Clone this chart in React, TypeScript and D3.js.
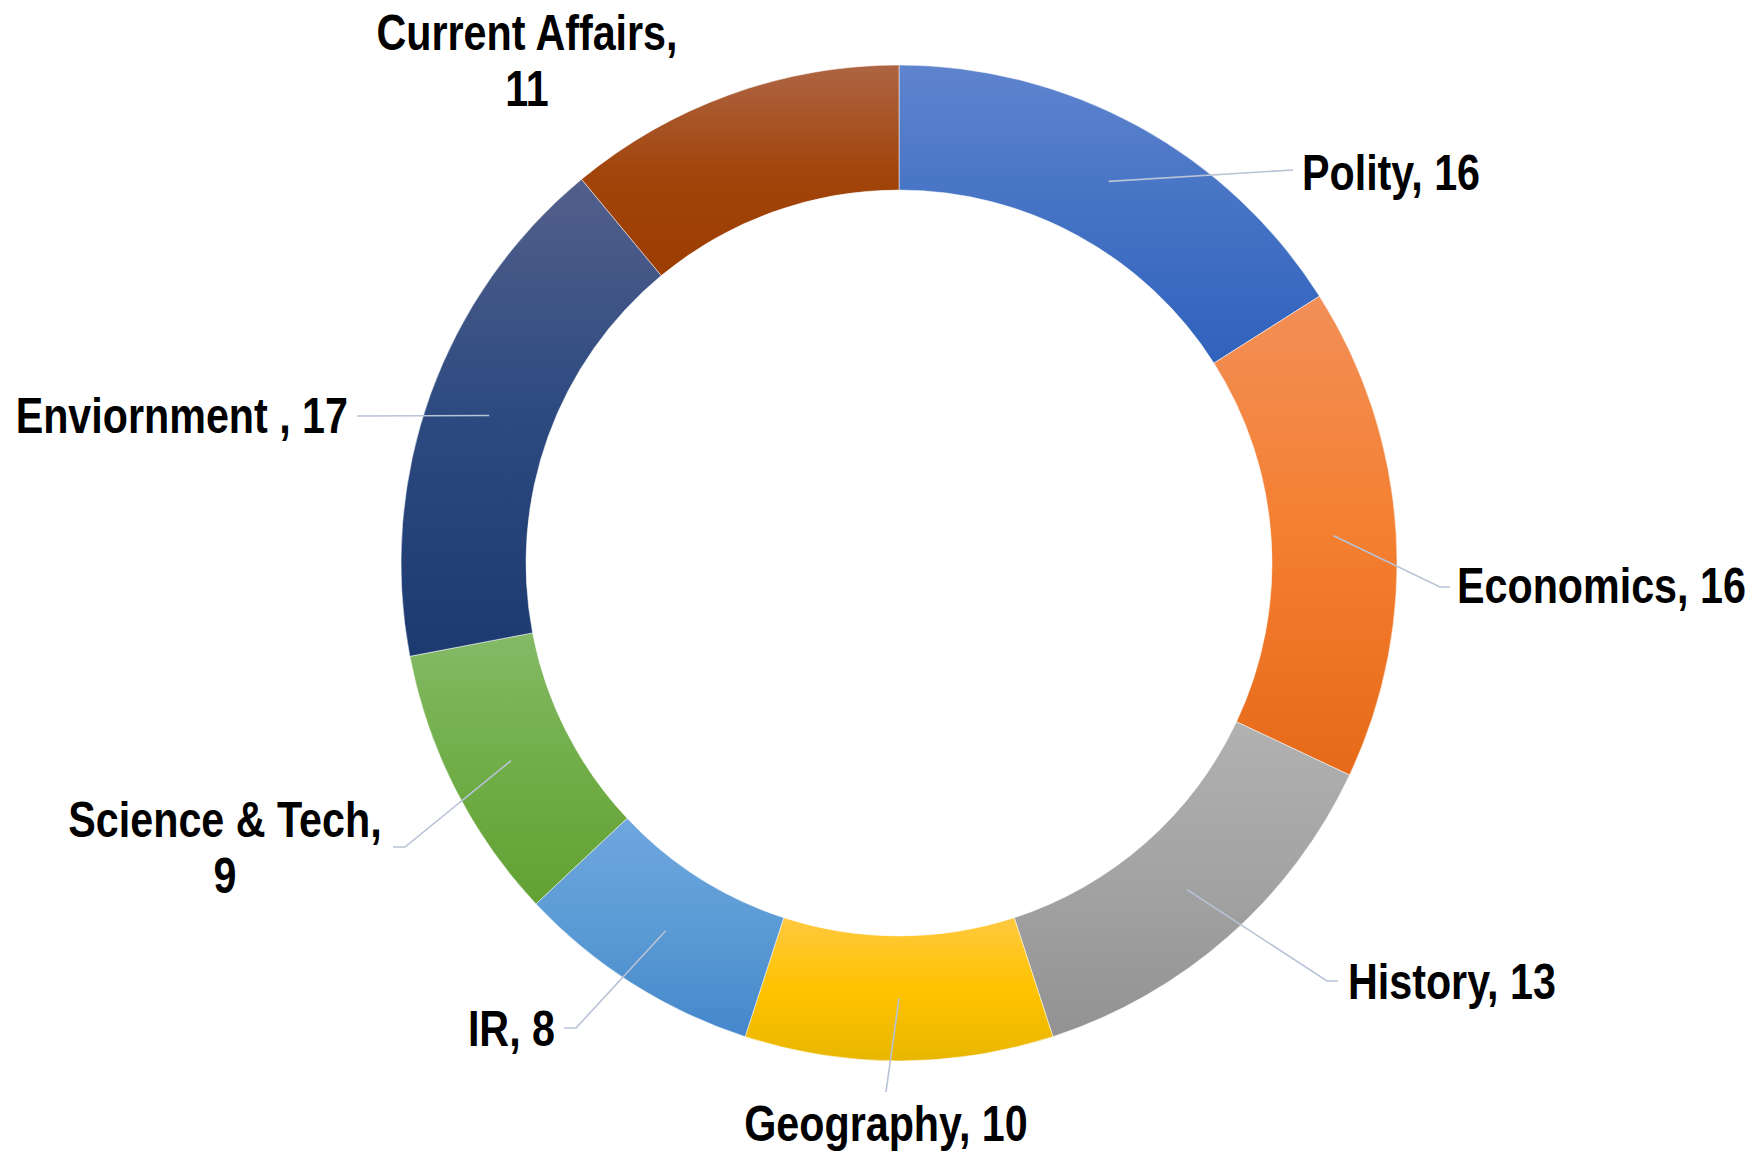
import React, { useRef, useEffect } from "react";
import * as d3 from "d3";

// chart data
const categories = [
  "Polity",
  "Economics",
  "History",
  "Geography",
  "IR",
  "Science & Tech",
  "Enviornment ",
  "Current Affairs",
];
const values = [16, 16, 13, 10, 8, 9, 17, 11];

// light / base / dark stops of each slice gradient
const colorTop = ["#5f84ce", "#f28f57", "#b1b1b1", "#ffc93f", "#6fa6de", "#84ba66", "#535f8b", "#ae6543"];
const colorMid = ["#4472c4", "#f47f30", "#a3a3a3", "#ffc300", "#5b9bd5", "#70ad47", "#2c4a80", "#a1450c"];
const colorBottom = ["#3062bd", "#e66a18", "#929292", "#e8b600", "#4487cb", "#62a133", "#1c3a70", "#9c3d00"];

// label placement relative to chart centre (layout, not data)
const labelLayout = [
  { x: 403, y: -373, anchor: "start", wrap: false, elbow: null, end: [394, -393] },
  { x: 558, y: 40, anchor: "start", wrap: false, elbow: [541, 24], end: [551, 24] },
  { x: 449, y: 436, anchor: "start", wrap: false, elbow: [428, 418], end: [439, 418] },
  { x: -13, y: 578, anchor: "middle", wrap: false, elbow: null, end: [-13, 529] },
  { x: -344, y: 483, anchor: "end", wrap: false, elbow: [-323, 465], end: [-335, 465] },
  { x: -674, y: 274, anchor: "middle", wrap: true, elbow: [-494, 284], end: [-506, 284] },
  { x: -551, y: -130, anchor: "end", wrap: false, elbow: null, end: [-542, -147] },
  { x: -372, y: -513, anchor: "middle", wrap: true, elbow: null, end: null },
];

const width = 1750;
const height = 1152;
const narrow = 0.825; // Arial Narrow look from Liberation Sans

const App = () => {
  const svgRef = useRef<SVGSVGElement>(null);

  useEffect(() => {
    const svg = d3.select(svgRef.current);
    svg.selectAll("*").remove();

    const cx = 899;
    const cy = 563;
    const outerR = 498;
    const innerR = 373;

    const data = categories.map((c, i) => ({ name: c, value: values[i], i }));

    const pie = d3
      .pie<any>()
      .sort(null)
      .value((d) => d.value)
      .startAngle(0)
      .endAngle(2 * Math.PI);

    const arc = d3.arc<any>().innerRadius(innerR).outerRadius(outerR);
    const arcs = pie(data);

    const defs = svg.append("defs");
    arcs.forEach((a, i) => {
      const g = defs
        .append("linearGradient")
        .attr("id", `grad${i}`)
        .attr("x1", 0)
        .attr("y1", 0)
        .attr("x2", 0)
        .attr("y2", 1);
      g.append("stop").attr("offset", "0%").attr("stop-color", colorTop[i]);
      g.append("stop").attr("offset", "50%").attr("stop-color", colorMid[i]);
      g.append("stop").attr("offset", "100%").attr("stop-color", colorBottom[i]);
    });

    const chart = svg.append("g").attr("transform", `translate(${cx},${cy})`);

    chart
      .selectAll("path.slice")
      .data(arcs)
      .enter()
      .append("path")
      .attr("class", "slice")
      .attr("d", arc)
      .attr("fill", (d, i) => `url(#grad${i})`)
      .attr("stroke", "#ffffff")
      .attr("stroke-width", 0.5);

    // leader lines
    arcs.forEach((a, i) => {
      const lay = labelLayout[i];
      if (!lay.end) return;
      const c = arc.centroid(a);
      const pts: [number, number][] = [c as [number, number]];
      if (lay.elbow) pts.push(lay.elbow as [number, number]);
      pts.push(lay.end as [number, number]);
      chart
        .append("path")
        .attr("d", d3.line()(pts))
        .attr("fill", "none")
        .attr("stroke", "#b8c3d6")
        .attr("stroke-width", 1.6);
    });

    // labels
    arcs.forEach((a, i) => {
      const lay = labelLayout[i];
      const t = chart
        .append("g")
        .attr("transform", `translate(${lay.x},${lay.y}) scale(${narrow},1)`)
        .append("text")
        .attr("x", 0)
        .attr("y", 0)
        .attr("text-anchor", lay.anchor)
        .style("font-family", "'Liberation Sans', Arial, sans-serif")
        .style("font-weight", "bold")
        .style("font-size", "50px")
        .attr("fill", "#000000");
      if (lay.wrap) {
        t.append("tspan").attr("x", 0).text(`${a.data.name},`);
        t.append("tspan").attr("x", 0).attr("dy", 56).text(`${a.data.value}`);
      } else {
        t.text(`${a.data.name}, ${a.data.value}`);
      }
    });
  }, []);

  return (
    <svg
      ref={svgRef}
      width={width}
      height={height}
      style={{ position: "absolute", left: 0, top: 0, background: "#ffffff" }}
    ></svg>
  );
};

export default App;
